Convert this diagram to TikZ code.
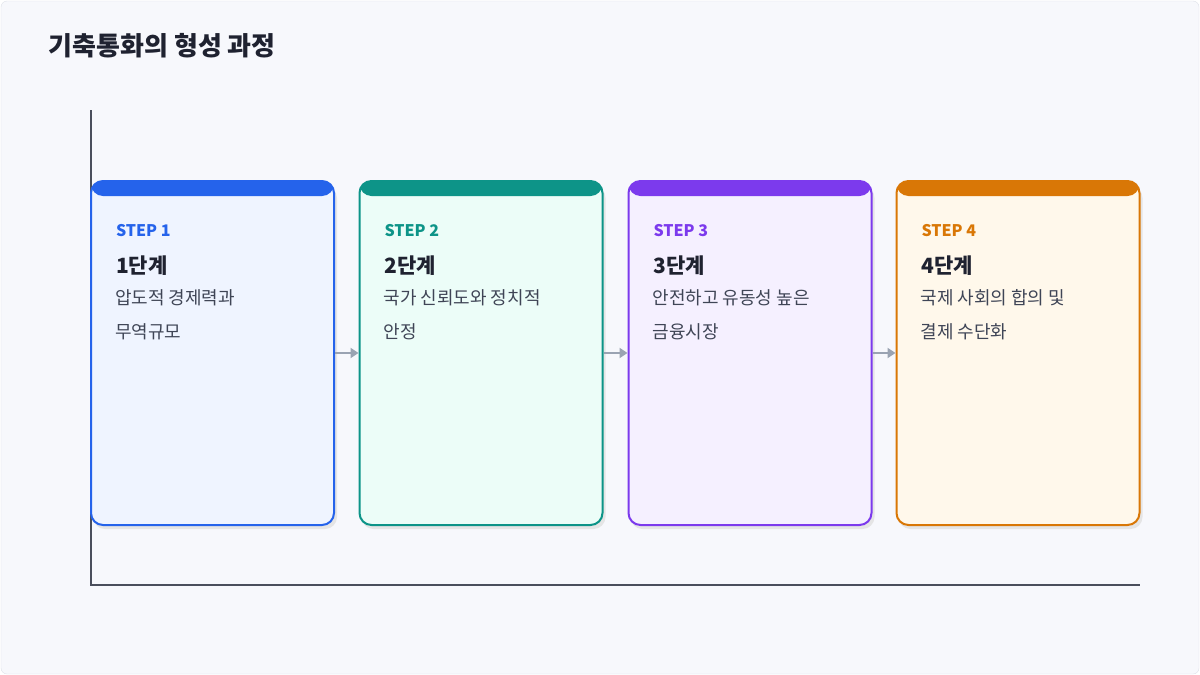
\documentclass[tikz,border=0pt]{standalone}
\usepackage{fontspec}
\setmainfont{Noto Sans CJK KR}
\usetikzlibrary{arrows.meta}
\definecolor{bg}{HTML}{F7F8FC}
\definecolor{frame}{HTML}{DDE0E8}
\definecolor{ink}{HTML}{1F2230}
\definecolor{desc}{HTML}{3F4556}
\definecolor{axis}{HTML}{4A4E5C}
\definecolor{arr}{HTML}{9AA3B2}
\definecolor{cA}{HTML}{2563EB}\definecolor{fA}{HTML}{EFF4FF}
\definecolor{cB}{HTML}{0D9488}\definecolor{fB}{HTML}{ECFDF8}
\definecolor{cC}{HTML}{7C3AED}\definecolor{fC}{HTML}{F5F0FF}
\definecolor{cD}{HTML}{D97706}\definecolor{fD}{HTML}{FFF8EB}
\tikzset{
  box/.style n args={2}{draw=#1, fill=#2, line width=2pt, rounded corners=12pt,
    minimum width=243pt, minimum height=344pt, inner sep=0pt,
    path picture={\fill[#1] (path picture bounding box.north west) rectangle ([yshift=-15pt]path picture bounding box.north east);}},
  steplbl/.style={anchor=base west, font=\bfseries\fontsize{16}{18}\selectfont},
  head/.style={anchor=base west, text=ink, font=\bfseries\fontsize{21}{24}\selectfont},
  dsc/.style={anchor=north west, text=desc, align=left, font=\fontsize{18}{34}\selectfont},
  conn/.style={draw=arr, line width=2.5pt, -{Triangle[length=8pt,width=10pt]}}
}
\begin{document}
\begin{tikzpicture}[x=1pt,y=-1pt]
\useasboundingbox (0,0) rectangle (1200,675);
\draw[frame, fill=bg, rounded corners=6pt] (1,1) rectangle (1199,674);
\node[anchor=base west, text=ink, font=\bfseries\fontsize{26}{30}\selectfont] (title) at (45,55) {기축통화의 형성 과정};
\coordinate (ytop) at (91,110);
\coordinate (org) at (91,585);
\coordinate (xend) at (1140,585);
\draw[axis, line width=1.2pt] (ytop) -- (org) -- (xend);
\foreach \i/\x/\c/\f/\n/\la/\lb in {1/212.5/cA/fA/1/{압도적 경제력과}/{무역규모}, 2/481/cB/fB/2/{국가 신뢰도와 정치적}/{안정}, 3/750/cC/fC/3/{안전하고 유동성 높은}/{금융시장}, 4/1018/cD/fD/4/{국제 사회의 합의 및}/{결제 수단화}}{
  \fill[black!10, rounded corners=12pt] (\x-119.5,186) rectangle (\x+124.5,529);
  \node[box={\c}{\f}] (b\i) at (\x,353) {};
  \node[steplbl, text=\c] (s\i) at (\x-100,236) {STEP {\n}};
  \node[head] (h\i) at (\x-100,273) {{\n}단계};
  \node[dsc] (d\i) at (\x-101,286) {{\la}\\{\lb}};
}
\draw[conn] (b1.east) -- (b2.west);
\draw[conn] (b2.east) -- (b3.west);
\draw[conn] (b3.east) -- (b4.west);
\end{tikzpicture}
\end{document}
